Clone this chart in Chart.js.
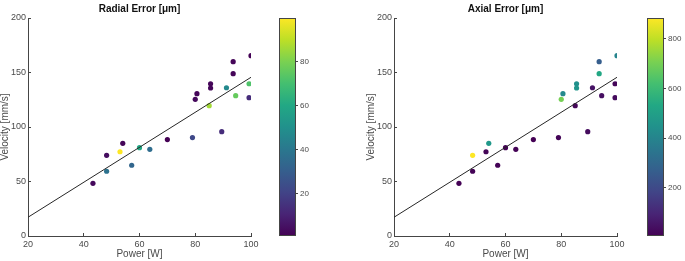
<!DOCTYPE html>
<html><head><meta charset="utf-8">
<script src="https://cdn.jsdelivr.net/npm/chart.js@4.4.1/dist/chart.umd.min.js"></script>
<style>
html,body{margin:0;padding:0;background:#fff;}
#wrap{position:relative;width:685px;height:261px;overflow:hidden;background:#fff;}
canvas{position:absolute;top:0;}
</style></head><body>
<div id="wrap">
<canvas id="c1" width="260" height="261" style="left:0px"></canvas>
<canvas id="cb1" width="60" height="261" style="left:270px"></canvas>
<canvas id="c2" width="260" height="261" style="left:366px"></canvas>
<canvas id="cb2" width="47" height="261" style="left:638px"></canvas>
</div>
<script>
// ---- data ----
const power = [43.3, 48.2, 48.2, 53, 54, 57.2, 60, 63.7, 70, 79, 80, 80.6, 85, 85.5, 85.5, 89.5, 91.2, 93.6, 93.6, 94.5, 99.3, 99.3, 100];
const velocity = [48.3, 74, 59.4, 77.3, 85, 64.9, 81, 79.5, 88.5, 90.3, 125.4, 130.6, 119.6, 139.7, 135.8, 95.7, 136, 159.9, 148.9, 128.7, 139.7, 126.9, 165.4];
const radialError = [3, 4, 38, 99.7, 2, 33, 60, 36, 0.6, 22, 3, 2, 86, 2, 2, 13, 47, 2, 2, 76, 72, 13, 1];
const axialError = [8, 883, 10, 15, 470, 12, 10, 12, 6, 15, 700, 415, 20, 440, 460, 30, 50, 265, 530, 40, 20, 30, 400];
const fitPower = [20, 100];
const fitVelocity = [17.2, 145.6];
const xTicks = [20, 40, 60, 80, 100];
const yTicks = [0, 50, 100, 150, 200];
const radialTicks = [20, 40, 60, 80];
const axialTicks = [200, 400, 600, 800];

// ---- viridis ----
const VIR = ['#440154','#482475','#414487','#355f8d','#2a788e','#21918c','#22a884','#44bf70','#7ad151','#bddf26','#fde725'];
function hex2rgb(h){return [parseInt(h.slice(1,3),16),parseInt(h.slice(3,5),16),parseInt(h.slice(5,7),16)];}
function viridis(t){
  t=Math.max(0,Math.min(1,t));
  const f=t*(VIR.length-1), i=Math.min(Math.floor(f),VIR.length-2), r=f-i;
  const a=hex2rgb(VIR[i]), b=hex2rgb(VIR[i+1]);
  return 'rgb('+a.map((v,k)=>Math.round(v+(b[k]-v)*r)).join(',')+')';
}

const FONT = '"Liberation Sans", Arial, sans-serif';
const AX = '#454545';
const TXT = '#4a4a4a';

function noPad(s){s.paddingLeft=0;s.paddingRight=0;s.paddingTop=0;s.paddingBottom=0;}

function scatterChart(id, title, errors){
  const lo=Math.min(...errors), hi=Math.max(...errors);
  const colors=errors.map(v=>viridis((v-lo)/(hi-lo)));
  new Chart(document.getElementById(id),{
    type:'scatter',
    data:{datasets:[
      {type:'line', data:fitPower.map((p,i)=>({x:p,y:fitVelocity[i]})), borderColor:'#262626', borderWidth:1, pointRadius:0, fill:false, order:1},
      {type:'scatter', data:power.map((p,i)=>({x:p,y:velocity[i]})), pointBackgroundColor:colors, pointBorderWidth:0, pointBorderColor:colors, pointRadius:2.6, order:2}
    ]},
    options:{
      responsive:false, animation:false, devicePixelRatio:1,
      layout:{padding:{top:18,right:9,left:0,bottom:0}},
      plugins:{legend:{display:false}, tooltip:{enabled:false}, title:{display:false}},
      scales:{
        x:{type:'linear', min:20, max:100,
          afterBuildTicks:s=>{s.ticks=xTicks.map(v=>({value:v}));},
          afterFit:s=>{s.height=25; noPad(s);},
          grid:{drawOnChartArea:false, drawTicks:true, tickLength:-3, color:AX},
          border:{display:true, color:AX, width:1},
          ticks:{padding:6, color:TXT, font:{family:FONT,size:9}, maxRotation:0},
          title:{display:true, text:'Power [W]', color:TXT, font:{family:FONT,size:10,lineHeight:1}, padding:{top:0,bottom:2}}
        },
        y:{type:'linear', min:0, max:200,
          afterBuildTicks:s=>{s.ticks=yTicks.map(v=>({value:v}));},
          afterFit:s=>{s.width=28; noPad(s);},
          grid:{drawOnChartArea:false, drawTicks:true, tickLength:-3, color:AX},
          border:{display:true, color:AX, width:1},
          ticks:{padding:5, color:TXT, font:{family:FONT,size:9}},
          title:{display:true, text:'Velocity [mm/s]', color:TXT, font:{family:FONT,size:10,lineHeight:1}, padding:{top:0,bottom:0}}
        }
      }
    },
    plugins:[{id:'ttl', afterDraw(chart){
      const ctx=chart.ctx, ca=chart.chartArea;
      ctx.save(); ctx.fillStyle='#111'; ctx.font='bold 10px '+FONT;
      ctx.textAlign='center'; ctx.textBaseline='middle';
      ctx.fillText(title,(ca.left+ca.right)/2,9); ctx.restore();
    }}]
  });
}

function colorbar(id, errors, ticks, axisW){
  const lo=Math.min(...errors), hi=Math.max(...errors);
  new Chart(document.getElementById(id),{
    type:'scatter',
    data:{datasets:[{data:[]}]},
    options:{
      responsive:false, animation:false, devicePixelRatio:1,
      layout:{padding:{top:18,bottom:25,left:9,right:0}},
      plugins:{legend:{display:false}, tooltip:{enabled:false}},
      scales:{
        x:{display:false, min:0, max:1},
        y:{position:'right', min:lo, max:hi,
          afterBuildTicks:s=>{s.ticks=ticks.map(v=>({value:v}));},
          afterFit:s=>{s.width=axisW; noPad(s);},
          grid:{drawOnChartArea:false, drawTicks:true, tickLength:2, color:AX},
          border:{display:false},
          ticks:{padding:2, color:TXT, font:{family:FONT,size:8}}
        }
      }
    },
    plugins:[{id:'cbar',
      beforeDraw(chart){
        const ctx=chart.ctx, ca=chart.chartArea, ys=chart.scales.y;
        const g=ctx.createLinearGradient(0,ys.getPixelForValue(lo),0,ys.getPixelForValue(hi));
        VIR.forEach((c,i)=>g.addColorStop(i/(VIR.length-1),c));
        ctx.save(); ctx.fillStyle=g; ctx.fillRect(ca.left,ca.top,ca.right-ca.left,ca.bottom-ca.top); ctx.restore();
      },
      afterDraw(chart){
        const ctx=chart.ctx, ca=chart.chartArea;
        ctx.save(); ctx.strokeStyle=AX; ctx.lineWidth=1;
        ctx.strokeRect(ca.left+0.5,ca.top+0.5,ca.right-ca.left-1,ca.bottom-ca.top-1); ctx.restore();
      }
    }]
  });
}

scatterChart('c1','Radial Error [\u03bcm]',radialError);
colorbar('cb1',radialError,radialTicks,34);
scatterChart('c2','Axial Error [\u03bcm]',axialError);
colorbar('cb2',axialError,axialTicks,21);
</script>
</body></html>
